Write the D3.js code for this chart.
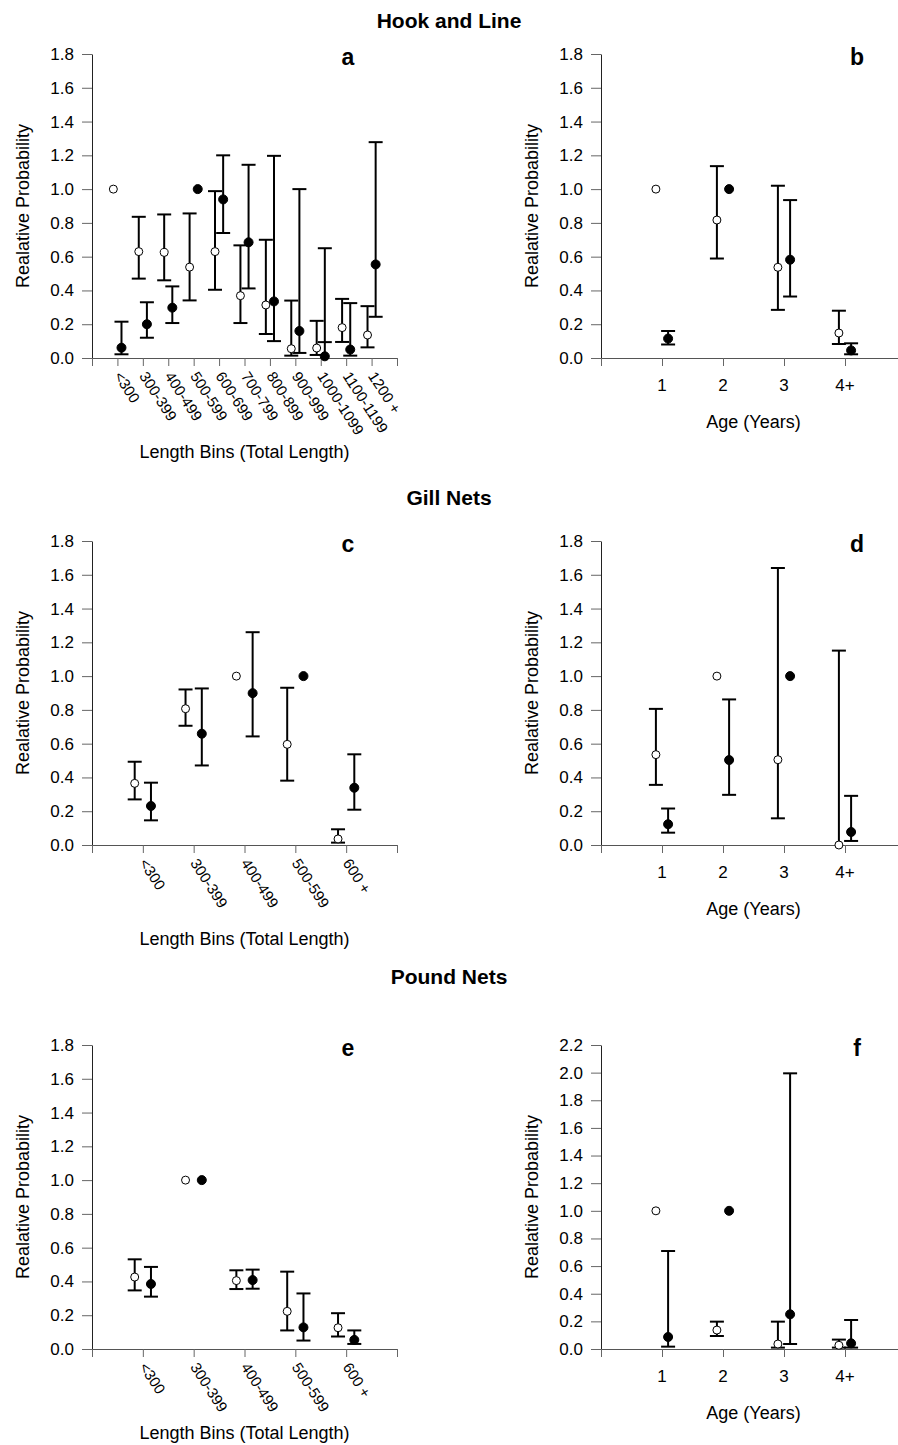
<!DOCTYPE html>
<html>
<head>
<meta charset="utf-8">
<script src="https://cdn.jsdelivr.net/npm/d3@7"></script>
<style>
  html,body{margin:0;padding:0;background:#fff;}
  svg{display:block;font-family:"Liberation Sans",Arial,sans-serif;}
</style>
</head>
<body>
<svg id="chart" width="898" height="1445"></svg>
<script>
// ---------- DATA ----------
// each entry: [value, lowerCI, upperCI] (null = no bar)
const sectionTitles = ["Hook and Line", "Gill Nets", "Pound Nets"];
const hookLengthBins = ["<300","300-399","400-499","500-599","600-699","700-799","800-899","900-999","1000-1099","1100-1199","1200 +"];
const shortLengthBins = ["<300","300-399","400-499","500-599","600 +"];
const ageClasses = ["1","2","3","4+"];

const hookLenOpen = [[1.00,null,null],[0.63,0.47,0.836],[0.625,0.46,0.85],[0.538,0.341,0.856],[0.63,0.404,0.988],
  [0.369,0.207,0.667],[0.314,0.142,0.70],[0.055,0.014,0.34],[0.059,0.018,0.22],[0.18,0.095,0.35],[0.136,0.063,0.307]];
const hookLenFilled = [[0.061,0.022,0.215],[0.20,0.12,0.33],[0.298,0.207,0.424],[1.00,null,null],[0.939,0.74,1.20],
  [0.685,0.412,1.144],[0.335,0.10,1.197],[0.16,0.03,1.00],[0.01,0.094,0.65],[0.05,0.014,0.325],[0.554,0.244,1.278]];

const hookAgeOpen = [[1.00,null,null],[0.817,0.589,1.136],[0.537,0.285,1.02],[0.148,0.083,0.28]];
const hookAgeFilled = [[0.115,0.08,0.16],[1.00,null,null],[0.582,0.364,0.935],[0.045,0.022,0.087]];

const gillLenOpen = [[0.365,0.27,0.493],[0.807,0.706,0.921],[1.00,null,null],[0.596,0.381,0.931],[0.036,0.014,0.093]];
const gillLenFilled = [[0.231,0.146,0.369],[0.659,0.471,0.927],[0.899,0.643,1.26],[1.00,null,null],[0.339,0.209,0.537]];

const gillAgeOpen = [[0.535,0.356,0.806],[1.00,null,null],[0.505,0.158,1.64],[0.0,null,1.151]];
const gillAgeFilled = [[0.123,0.073,0.216],[0.503,0.297,0.862],[1.00,null,null],[0.077,0.024,0.291]];

const poundLenOpen = [[0.426,0.347,0.531],[1.00,null,null],[0.405,0.355,0.466],[0.223,0.11,0.458],[0.126,0.074,0.212]];
const poundLenFilled = [[0.385,0.31,0.486],[1.00,null,null],[0.408,0.357,0.47],[0.128,0.05,0.329],[0.054,0.03,0.11]];

const poundAgeOpen = [[1.00,null,null],[0.137,0.094,0.198],[0.036,0.01,0.198],[0.027,0.01,0.068]];
const poundAgeFilled = [[0.087,0.017,0.709],[1.00,null,null],[0.251,0.036,1.995],[0.041,0.01,0.21]];

const yMaxStd = 1.8, yMaxF = 2.2;

// ---------- DRAW ----------
const svg = d3.select("#chart");
const FONT = '"Liberation Sans",Arial,sans-serif';

// section titles
[[28, sectionTitles[0]],[505, sectionTitles[1]],[984, sectionTitles[2]]].forEach(([yy,t])=>{
  svg.append("text").attr("x",449).attr("y",yy).attr("text-anchor","middle")
    .attr("font-size",21).attr("font-weight","bold").text(t);
});

function panel(o){
  const n = o.cats.length;
  const x = d3.scaleLinear().domain([0,n+1]).range([o.x0,o.x1]);
  const y = d3.scaleLinear().domain([0,o.yMax]).range([o.yBot,o.yTop]);
  const g = svg.append("g");

  // y axis
  const ya = g.append("g").attr("transform",`translate(${o.x0},0)`)
    .call(d3.axisLeft(y).tickValues(d3.range(0,o.yMax+1e-9,0.2)).tickFormat(d3.format(".1f"))
      .tickSize(10).tickSizeOuter(0).tickPadding(8));
  ya.select(".domain").attr("stroke","#222").attr("stroke-width",1);
  ya.selectAll(".tick line").attr("stroke","#666");
  ya.selectAll(".tick text").attr("font-size",17).attr("font-family",FONT).attr("fill","#000");

  // x axis
  const xa = g.append("g").attr("transform",`translate(0,${o.yBot})`)
    .call(d3.axisBottom(x).tickValues(d3.range(0,n+2)).tickFormat("").tickSize(8).tickSizeOuter(0));
  xa.select(".domain").attr("stroke","#555").attr("stroke-width",1);
  xa.selectAll(".tick line").attr("stroke","#666");

  // x tick labels
  o.cats.forEach((c,i)=>{
    const px = x(i+1);
    if(o.rotate){
      g.append("text").attr("transform",`translate(${px-4},${o.yBot+18}) rotate(57)`)
        .attr("font-size",15).attr("text-anchor","start").text(c);
    } else {
      g.append("text").attr("x",px).attr("y",o.yBot+33).attr("text-anchor","middle")
        .attr("font-size",17).text(c);
    }
  });

  // axis titles
  g.append("text").attr("transform",`translate(${o.x0-63},${(o.yTop+o.yBot)/2}) rotate(-90)`)
    .attr("text-anchor","middle").attr("font-size",18).text("Realative Probability");
  g.append("text").attr("x",(o.x0+o.x1)/2).attr("y",o.yBot+o.titleDy).attr("text-anchor","middle")
    .attr("font-size",18).text(o.xTitle);

  // panel letter
  g.append("text").attr("x",o.x1-49).attr("y",o.yTop+11).attr("text-anchor","middle")
    .attr("font-size",23).attr("font-weight","bold").text(o.letter);

  const step = x(1)-x(0);
  const series = [{d:o.open, off:-o.offFrac*step, filled:false},{d:o.filled, off:o.offFrac*step, filled:true}];
  const cap = 7;
  series.forEach(s=>{
    s.d.forEach((p,i)=>{
      const [v,lo,hi] = p;
      const cx = x(i+1)+s.off;
      if(lo!==null || hi!==null){
        const top = hi!==null ? Math.max(v,hi) : v;
        const bot = lo!==null ? Math.min(v,lo) : v;
        g.append("line").attr("x1",cx).attr("x2",cx).attr("y1",y(top)).attr("y2",y(bot))
          .attr("stroke","#000").attr("stroke-width",2);
        [lo,hi].forEach(b=>{
          if(b===null) return;
          g.append("line").attr("x1",cx-cap).attr("x2",cx+cap).attr("y1",y(b)).attr("y2",y(b))
            .attr("stroke","#000").attr("stroke-width",2);
        });
      }
    });
  });
  series.forEach(s=>{
    s.d.forEach((p,i)=>{
      const cx = x(i+1)+s.off;
      g.append("circle").attr("cx",cx).attr("cy",y(p[0])).attr("r",s.filled?4.5:4)
        .attr("fill",s.filled?"#000":"#fff").attr("stroke","#000").attr("stroke-width",1);
    });
  });
}

panel({x0:92,x1:397,yTop:54,yBot:358,yMax:yMaxStd,cats:hookLengthBins,open:hookLenOpen,filled:hookLenFilled,
  rotate:true,xTitle:"Length Bins (Total Length)",titleDy:100,letter:"a",offFrac:0.16});
panel({x0:601,x1:906,yTop:54,yBot:358,yMax:yMaxStd,cats:ageClasses,open:hookAgeOpen,filled:hookAgeFilled,
  rotate:false,xTitle:"Age (Years)",titleDy:70,letter:"b",offFrac:0.1});
panel({x0:92,x1:397,yTop:541,yBot:845,yMax:yMaxStd,cats:shortLengthBins,open:gillLenOpen,filled:gillLenFilled,
  rotate:true,xTitle:"Length Bins (Total Length)",titleDy:100,letter:"c",offFrac:0.16});
panel({x0:601,x1:906,yTop:541,yBot:845,yMax:yMaxStd,cats:ageClasses,open:gillAgeOpen,filled:gillAgeFilled,
  rotate:false,xTitle:"Age (Years)",titleDy:70,letter:"d",offFrac:0.1});
panel({x0:92,x1:397,yTop:1045,yBot:1349,yMax:yMaxStd,cats:shortLengthBins,open:poundLenOpen,filled:poundLenFilled,
  rotate:true,xTitle:"Length Bins (Total Length)",titleDy:90,letter:"e",offFrac:0.16});
panel({x0:601,x1:906,yTop:1045,yBot:1349,yMax:yMaxF,cats:ageClasses,open:poundAgeOpen,filled:poundAgeFilled,
  rotate:false,xTitle:"Age (Years)",titleDy:70,letter:"f",offFrac:0.1});
</script>
</body>
</html>
